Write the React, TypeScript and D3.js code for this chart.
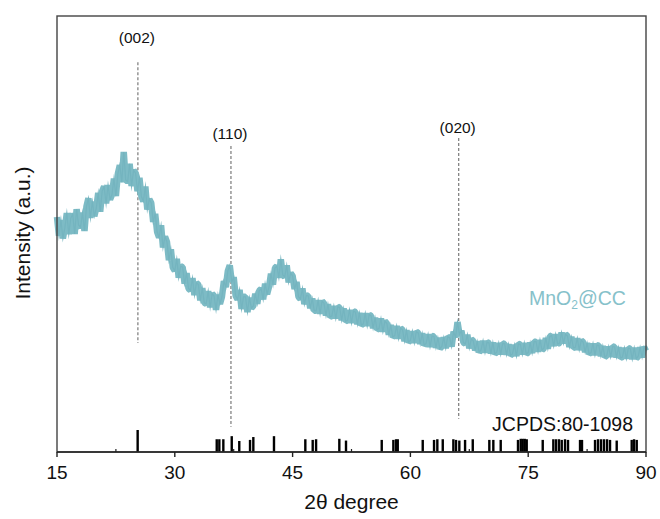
import React from "react";
import * as d3 from "d3";

const W = 660;
const H = 519;

// Bottom axis ticks (2θ, degrees)
const xTicks = [15, 30, 45, 60, 75, 90];
const xMinorTicks = [22.5, 37.5, 52.5, 67.5, 82.5];

// Measured pattern: 2θ from 15° to 90°, sampled every 0.25°
const scanStart = 15;
const scanStep = 0.25;
const intensity = [
  53.9, 49.6, 53.2, 49.0,
  51.4, 54.8, 50.0, 53.6,
  54.6, 50.0, 55.7, 52.0,
  51.6, 54.9, 50.7, 56.3,
  58.2, 53.7, 57.4, 54.1,
  55.9, 59.4, 55.1, 59.8,
  60.9, 57.0, 61.2, 57.9,
  59.0, 62.7, 58.7, 63.8,
  65.8, 61.9, 68.8, 62.4,
  62.0, 66.1, 61.0, 64.6,
  64.0, 59.8, 62.9, 58.6,
  57.5, 60.9, 55.6, 58.0,
  57.1, 52.8, 54.6, 50.5,
  49.2, 52.0, 46.9, 49.4,
  48.2, 44.0, 46.5, 42.3,
  41.6, 44.3, 40.0, 42.6,
  42.4, 38.6, 41.0, 37.5,
  37.1, 39.9, 36.0, 38.8,
  38.4, 34.8, 37.6, 34.2,
  34.0, 36.9, 33.2, 36.3,
  35.8, 32.6, 36.1, 34.0,
  35.6, 39.2, 37.8, 41.5,
  42.8, 39.0, 40.1, 35.8,
  35.0, 37.2, 32.8, 35.6,
  35.6, 32.1, 35.4, 33.0,
  33.5, 36.3, 34.0, 37.0,
  37.4, 35.0, 38.6, 36.2,
  37.9, 40.9, 38.4, 42.2,
  42.6, 40.0, 44.2, 40.6,
  40.2, 42.8, 38.9, 41.0,
  40.4, 37.4, 39.0, 35.6,
  35.1, 37.5, 33.9, 35.9,
  35.8, 33.0, 35.2, 32.4,
  32.4, 34.8, 31.7, 34.6,
  34.1, 31.3, 33.9, 31.0,
  31.2, 33.5, 30.6, 33.3,
  33.1, 30.2, 32.9, 30.0,
  30.2, 32.6, 29.6, 32.3,
  32.1, 29.3, 31.9, 29.1,
  29.4, 31.8, 28.9, 31.5,
  31.2, 28.4, 30.8, 28.1,
  28.3, 30.6, 27.6, 30.0,
  29.5, 26.9, 29.1, 26.4,
  26.7, 28.9, 26.0, 28.4,
  28.0, 25.4, 27.9, 25.2,
  25.6, 27.7, 25.0, 27.6,
  27.3, 24.8, 27.2, 24.5,
  24.9, 27.0, 24.1, 26.6,
  26.5, 23.9, 26.2, 23.7,
  24.2, 26.3, 23.8, 26.4,
  26.2, 24.2, 27.6, 26.3,
  29.8, 27.0, 27.8, 25.1,
  24.8, 26.9, 23.8, 25.9,
  25.5, 23.3, 25.4, 22.9,
  23.4, 25.5, 22.8, 25.2,
  25.0, 22.6, 25.1, 22.5,
  22.9, 25.0, 22.4, 24.9,
  24.8, 22.3, 24.7, 22.2,
  22.5, 24.6, 22.0, 24.8,
  24.7, 22.4, 25.0, 22.5,
  22.8, 25.1, 22.7, 25.3,
  25.3, 23.0, 25.7, 23.4,
  23.8, 26.1, 23.7, 26.5,
  26.7, 24.3, 27.0, 24.8,
  25.0, 27.4, 24.9, 27.0,
  26.6, 24.1, 26.4, 23.9,
  24.0, 26.1, 23.4, 25.6,
  25.2, 22.9, 25.0, 22.5,
  22.8, 24.9, 22.2, 24.5,
  24.4, 22.0, 24.3, 21.8,
  22.1, 24.2, 21.8, 24.2,
  24.1, 21.7, 24.0, 21.6,
  21.8, 23.9, 21.4, 23.8,
  23.7, 21.3, 23.9, 21.5,
  21.9, 24.0, 21.7, 24.1,
  23.2,
];

// Reference pattern JCPDS 80-1098: positions (2θ) and relative intensity
const refPeaks = [
  25.27, 35.34, 35.67, 36.18, 37.25, 38.21, 39.58, 40.0, 42.63, 46.62, 47.56,
  47.99, 50.95, 51.8, 56.35, 57.83, 58.17, 58.39, 61.57, 63.01, 63.43, 64.12,
  65.47, 65.81, 66.23, 66.96, 67.94, 70.05, 70.56, 71.5, 73.7, 74.05, 74.3,
  74.56, 74.81, 76.85, 78.2, 78.55, 78.92, 79.27, 79.69, 80.07, 81.6, 81.85,
  83.51, 83.89, 84.27, 84.65, 85.04, 85.42, 86.27, 88.18, 88.48, 88.82,
];
const refIntensity = [
  100, 58, 58, 58, 72, 50, 55, 68, 72, 58, 55,
  58, 60, 52, 55, 55, 58, 58, 55, 55, 58, 58,
  58, 55, 52, 55, 58, 55, 55, 55, 55, 60, 60,
  60, 58, 55, 58, 58, 58, 55, 58, 55, 55, 55,
  55, 58, 58, 58, 58, 55, 52, 55, 58, 55,
];

// Indexed planes: label, 2θ, dashed line span (intensity units), label anchor
const planeLabels = ["(002)", "(110)", "(020)"];
const planePos = [25.3, 37.15, 66.15];
const planeTop = [89.4, 70.2, 72.0];
const planeBottom = [25.0, 5.8, 7.6];
const planeLabelY = [93.7, 71.8, 73.2];

const sampleLabel = "MnO";
const refLabel = "JCPDS:80-1098";
const xTitle = "2θ degree";
const yTitle = "Intensity (a.u.)";

const FONT = "'Liberation Sans', Arial, Helvetica, sans-serif";
const CURVE = "#7dbbc5";

export default function App() {
  const m = { left: 57, right: 646, top: 16, bottom: 452 };
  const x = d3.scaleLinear().domain([15, 90]).range([m.left, m.right]);
  const y = d3.scaleLinear().domain([0, 100]).range([m.bottom, m.top]);
  const stickH = d3.scaleLinear().domain([0, 100]).range([0, 22]);

  const pts: [number, number][] = intensity.map((v, i) => [scanStart + i * scanStep, v]);
  const line = d3
    .line<[number, number]>()
    .x((d) => x(d[0]))
    .y((d) => y(d[1]));
  const d = line(pts) || "";

  return (
    <svg width={W} height={H} style={{ display: "block", position: "absolute", left: 0, top: 0 }} fontFamily={FONT}>
      <rect x={0} y={0} width={W} height={H} fill="#fff" />
      {/* dashed plane markers */}
      {planePos.map((p, i) => (
        <g key={planeLabels[i]}>
          <line
            x1={x(p)}
            x2={x(p)}
            y1={y(planeTop[i])}
            y2={y(planeBottom[i])}
            stroke="#7a7a7a"
            strokeWidth={1.2}
            strokeDasharray="3,2"
          />
          <text x={x(p) - 1} y={y(planeLabelY[i])} fontSize={15.5} textAnchor="middle" fill="#111">
            {planeLabels[i]}
          </text>
        </g>
      ))}
      {/* measured pattern */}
      <path d={d} fill="none" stroke={CURVE} strokeWidth={6.5} strokeLinejoin="bevel" />
      <path d={d} fill="none" stroke="#74b4bf" strokeWidth={1.2} strokeLinejoin="miter" strokeMiterlimit={10} />
      {/* reference sticks */}
      {refPeaks.map((p, i) => (
        <line
          key={i}
          x1={x(p)}
          x2={x(p)}
          y1={m.bottom}
          y2={m.bottom - stickH(refIntensity[i])}
          stroke="#000"
          strokeWidth={2.4}
        />
      ))}
      {/* frame */}
      <rect
        x={m.left}
        y={m.top}
        width={m.right - m.left}
        height={m.bottom - m.top}
        fill="none"
        stroke="#444"
        strokeWidth={1.4}
      />
      <line x1={m.left} x2={m.right} y1={m.bottom} y2={m.bottom} stroke="#222" strokeWidth={1.4} />
      {xTicks.map((t) => (
        <g key={t}>
          <line x1={x(t)} x2={x(t)} y1={m.bottom} y2={m.bottom + 5} stroke="#222" strokeWidth={1.4} />
          <text x={x(t)} y={478.5} fontSize={19} textAnchor="middle" fill="#111">
            {t}
          </text>
        </g>
      ))}
      {xMinorTicks.map((t) => (
        <line key={t} x1={x(t)} x2={x(t)} y1={m.bottom} y2={m.bottom - 3} stroke="#222" strokeWidth={1.2} />
      ))}
      {/* labels */}
      <text x={529} y={305} fontSize={19.5} fill="#86c1ca">
        {sampleLabel}
        <tspan fontSize={12} dy={4}>2</tspan>
        <tspan dy={-4}>@CC</tspan>
      </text>
      <text x={633} y={431} fontSize={19.5} textAnchor="end" fill="#111">
        {refLabel}
      </text>
      <text x={351.5} y={509} fontSize={21} textAnchor="middle" fill="#111">
        {xTitle}
      </text>
      <text
        transform={`translate(30,233) rotate(-90)`}
        fontSize={21}
        textAnchor="middle"
        fill="#111"
      >
        {yTitle}
      </text>
    </svg>
  );
}
